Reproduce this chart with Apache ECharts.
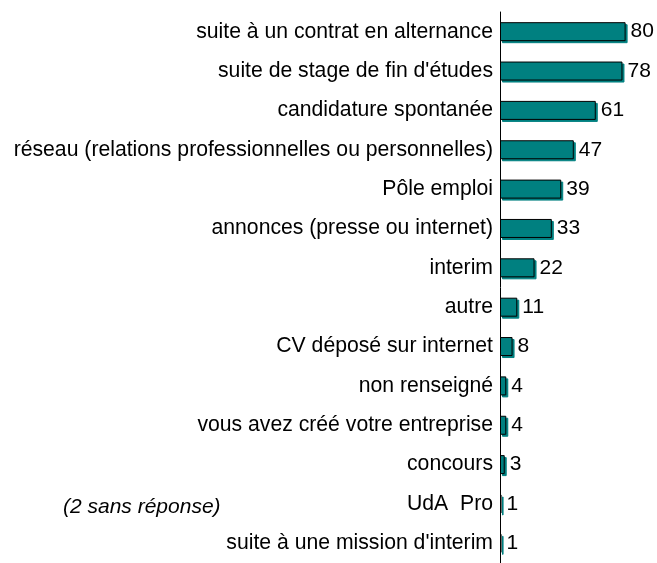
<!DOCTYPE html>
<html><head><meta charset="utf-8">
<script src="https://cdn.jsdelivr.net/npm/echarts@6/dist/echarts.min.js"></script>
<style>html,body{margin:0;padding:0;background:#fff}#c{width:657px;height:563px}</style>
</head><body><div id="c"></div>
<script>
const categories = [
  "suite à un contrat en alternance",
  "suite de stage de fin d'études",
  "candidature spontanée",
  "réseau (relations professionnelles ou personnelles)",
  "Pôle emploi",
  "annonces (presse ou internet)",
  "interim",
  "autre",
  "CV déposé sur internet",
  "non renseigné",
  "vous avez créé votre entreprise",
  "concours",
  "UdA  Pro",
  "suite à une mission d'interim"
];
const values = [80, 78, 61, 47, 39, 33, 22, 11, 8, 4, 4, 3, 1, 1];
const note = "(2 sans réponse)";

const chart = echarts.init(document.getElementById('c'), null, {renderer: 'canvas'});
chart.setOption({
  animation: false,
  grid: {left: 500, top: 12, width: 160, height: 559, containLabel: false},
  xAxis: {type: 'value', min: 0, max: 100, show: false},
  yAxis: {
    type: 'category', data: categories, inverse: true,
    axisLine: {show: true, lineStyle: {color: '#000', width: 1}},
    axisTick: {show: false},
    axisLabel: {color: '#000', fontFamily: 'Liberation Sans, Arial', fontSize: 21.2, margin: 7}
  },
  series: [{
    type: 'bar', data: values, barWidth: 19,
    itemStyle: {color: '#008080', borderColor: '#000', borderWidth: 1,
      shadowColor: '#008080', shadowOffsetX: 2, shadowOffsetY: 2, shadowBlur: 0},
    label: {show: true, position: 'right', distance: 5, color: '#000',
      fontFamily: 'Liberation Sans, Arial', fontSize: 21}
  }],
  graphic: [{
    type: 'text', left: 63, top: 497,
    style: {text: note, font: 'italic 21px "Liberation Sans", Arial', fill: '#000'}
  }]
});
</script></body></html>
